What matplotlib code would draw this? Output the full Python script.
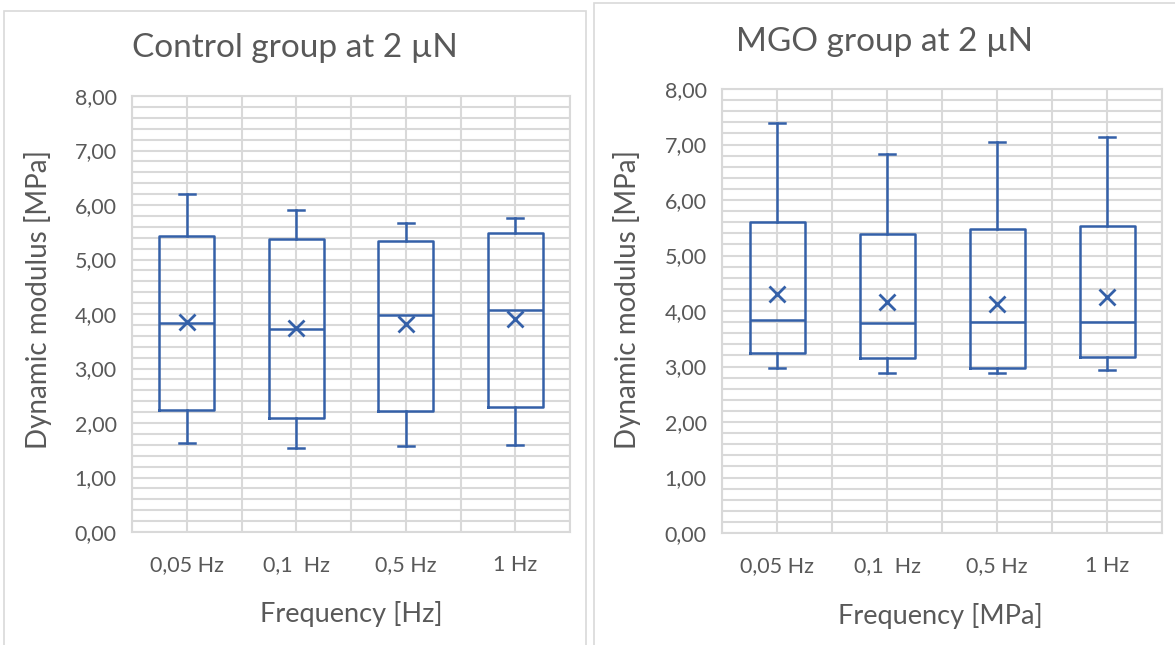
import matplotlib
matplotlib.use("Agg")
import matplotlib.pyplot as plt
from matplotlib.patches import Rectangle
from matplotlib.ticker import FuncFormatter, MultipleLocator

plt.rcParams['font.family'] = ['Lato', 'DejaVu Sans']

categories = ["0,05 Hz", "0,1  Hz", "0,5 Hz", "1 Hz"]

# Control group: whisker low, Q1, median, Q3, whisker high, mean
control_whislo = [1.64, 1.55, 1.58, 1.60]
control_q1 = [2.24, 2.09, 2.22, 2.29]
control_med = [3.83, 3.72, 3.98, 4.07]
control_q3 = [5.43, 5.38, 5.34, 5.48]
control_whishi = [6.20, 5.90, 5.67, 5.77]
control_mean = [3.86, 3.74, 3.82, 3.90]

# MGO group
mgo_whislo = [2.97, 2.89, 2.89, 2.93]
mgo_q1 = [3.25, 3.16, 2.97, 3.18]
mgo_med = [3.83, 3.78, 3.80, 3.81]
mgo_q3 = [5.60, 5.38, 5.47, 5.53]
mgo_whishi = [7.38, 6.83, 7.04, 7.14]
mgo_mean = [4.30, 4.17, 4.13, 4.25]

BLUE = "#3460a8"
GRID = "#d9d9d9"
TEXT = "#595959"

fig = plt.figure(figsize=(11.75, 6.45), dpi=100)
W, H = 1175, 645


def px_rect(x0, y0, x1, y1):
    return [x0 / W, 1 - y1 / H, (x1 - x0) / W, (y1 - y0) / H]


# chart-area outlines
fig.patches.append(Rectangle((4 / W, -0.05), (586 - 4) / W, 1.05 - 11 / H,
                             transform=fig.transFigure, fill=False,
                             edgecolor="#d9d9d9", lw=1.2))
fig.patches.append(Rectangle((594 / W, -0.05), 1.1, 1.05 - 3 / H,
                             transform=fig.transFigure, fill=False,
                             edgecolor="#d9d9d9", lw=1.2))


def draw_panel(rect, lo, q1, med, q3, hi, mean):
    ax = fig.add_axes(rect)
    stats = []
    for i in range(len(categories)):
        stats.append(dict(whislo=lo[i], q1=q1[i], med=med[i], q3=q3[i],
                          whishi=hi[i], mean=mean[i], fliers=[],
                          label=categories[i]))
    positions = list(range(1, len(categories) + 1))
    ax.bxp(stats, positions=positions, widths=0.5, capwidths=0.15,
           showmeans=True, showfliers=False, patch_artist=False,
           boxprops=dict(color=BLUE, lw=1.8),
           whiskerprops=dict(color=BLUE, lw=1.8),
           capprops=dict(color=BLUE, lw=1.8),
           medianprops=dict(color=BLUE, lw=1.8),
           meanprops=dict(marker="x", markeredgecolor=BLUE, markersize=11,
                          markeredgewidth=2.0))
    ax.set_xlim(0.5, len(categories) + 0.5)
    ax.set_ylim(0, 8)
    ax.yaxis.set_major_locator(MultipleLocator(1))
    ax.yaxis.set_minor_locator(MultipleLocator(0.2))
    ax.xaxis.set_minor_locator(MultipleLocator(0.5))
    ax.yaxis.set_major_formatter(FuncFormatter(lambda v, p: f"{v:.2f}".replace(".", ",")))
    ax.set_xticks(positions)
    ax.set_xticklabels(categories)
    ax.grid(True, which="both", color=GRID, lw=1.5)
    ax.set_axisbelow(True)
    for s in ax.spines.values():
        s.set_color(GRID)
        s.set_linewidth(1.5)
    ax.tick_params(which="both", length=0, colors=TEXT, labelsize=15.5)
    ax.tick_params(axis="x", pad=16.5)
    ax.tick_params(axis="y", pad=11)
    return ax


draw_panel(px_rect(132, 96, 570, 532), control_whislo, control_q1,
           control_med, control_q3, control_whishi, control_mean)
draw_panel(px_rect(722, 89, 1162, 533), mgo_whislo, mgo_q1,
           mgo_med, mgo_q3, mgo_whishi, mgo_mean)


def ftext(x, y, s, **kw):
    fig.text(x / W, 1 - y / H, s, ha="center", va="center", color=TEXT, **kw)


ftext(295, 48, "Control group at 2 µN", fontsize=24)
ftext(884, 42, "MGO group at 2 µN", fontsize=24)
ftext(38, 300, "Dynamic modulus [MPa]", fontsize=20, rotation=90)
ftext(627, 300, "Dynamic modulus [MPa]", fontsize=20, rotation=90)
ftext(351, 614, "Frequency [Hz]", fontsize=19.5)
ftext(940, 616, "Frequency [MPa]", fontsize=19.5)

fig.savefig("out.png", dpi=100, facecolor="white")
